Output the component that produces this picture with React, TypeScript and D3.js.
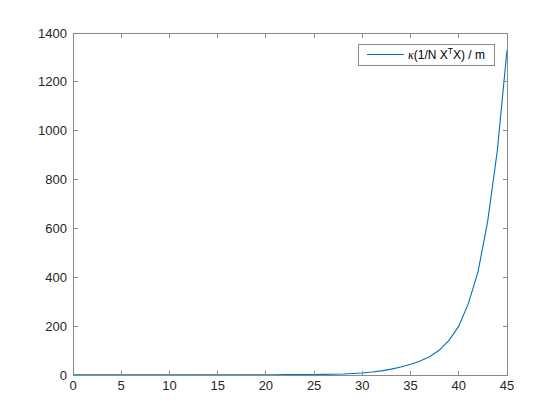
import * as d3 from "d3";

// x positions and values
const xs = d3.range(0, 46);
const values = [
  1, 1, 1, 1, 1, 1, 1, 1, 1, 1,
  1, 1, 1, 1, 1, 1, 1, 1, 1, 1.1,
  1.2, 1.3, 1.4, 1.6, 1.8, 2, 2.4, 3, 4, 6,
  8, 12, 17, 24, 33, 44, 57, 76, 102, 143,
  200, 293, 423, 630, 920, 1330,
];
const xTicks = [0, 5, 10, 15, 20, 25, 30, 35, 40, 45];
const yTicks = [0, 200, 400, 600, 800, 1000, 1200, 1400];

export default function App() {
  const width = 560;
  const height = 420;
  const marginLeft = 73;
  const marginRight = 53;
  const marginTop = 33;
  const marginBottom = 45;

  const xScale = d3.scaleLinear([0, 45], [marginLeft, width - marginRight]);
  const yScale = d3.scaleLinear([0, 1400], [height - marginBottom, marginTop]);

  const line = d3
    .line<number>()
    .x((_, i) => xScale(xs[i]))
    .y((d) => yScale(d));

  const axisColor = "#8a8a8a";
  const labelColor = "#262626";
  const x0 = xScale(0), x1 = xScale(45);
  const y0 = yScale(0), y1 = yScale(1400);
  const tick = 4.5;

  return (
    <svg
      width={width}
      height={height}
      style={{ position: "absolute", left: 0, top: 0, background: "#fff" }}
      fontFamily="Arial, 'Liberation Sans', sans-serif"
    >
      <rect x={0} y={0} width={width} height={height} fill="#fff" />
      <path fill="none" stroke="#0072BD" strokeWidth="1.1" d={line(values) ?? ""} />

      {/* box and ticks */}
      <g stroke={axisColor} strokeWidth="1" fill="none" shapeRendering="crispEdges">
        <rect x={x0} y={y1} width={x1 - x0} height={y0 - y1} />
        {xTicks.map((t) => (
          <g key={"x" + t}>
            <line x1={xScale(t)} x2={xScale(t)} y1={y0} y2={y0 - tick} />
            <line x1={xScale(t)} x2={xScale(t)} y1={y1} y2={y1 + tick} />
          </g>
        ))}
        {yTicks.map((t) => (
          <g key={"y" + t}>
            <line x1={x0} x2={x0 + tick} y1={yScale(t)} y2={yScale(t)} />
            <line x1={x1} x2={x1 - tick} y1={yScale(t)} y2={yScale(t)} />
          </g>
        ))}
      </g>

      <g fill={labelColor} fontSize="13">
        {xTicks.map((t) => (
          <text key={"xl" + t} x={xScale(t)} y={y0 + 15} textAnchor="middle">
            {t}
          </text>
        ))}
        {yTicks.map((t) => (
          <text key={"yl" + t} x={x0 - 6} y={yScale(t) + 4.5} textAnchor="end">
            {t}
          </text>
        ))}
      </g>

      {/* legend */}
      <g>
        <rect x={358} y={44} width={136} height={21} fill="#fff" stroke={axisColor} shapeRendering="crispEdges" />
        <line x1={367} x2={404} y1={54.5} y2={54.5} stroke="#0072BD" strokeWidth="1.1" />
        <text x={408} y={59} fontSize="12" fill="#000">
          <tspan fontStyle="italic" fontFamily="'Times New Roman', 'Liberation Serif', serif">κ</tspan>
          <tspan>(1/N X</tspan>
          <tspan fontSize="8.5" dy={-5}>T</tspan>
          <tspan dy={5}>X) / m</tspan>
        </text>
      </g>
    </svg>
  );
}
